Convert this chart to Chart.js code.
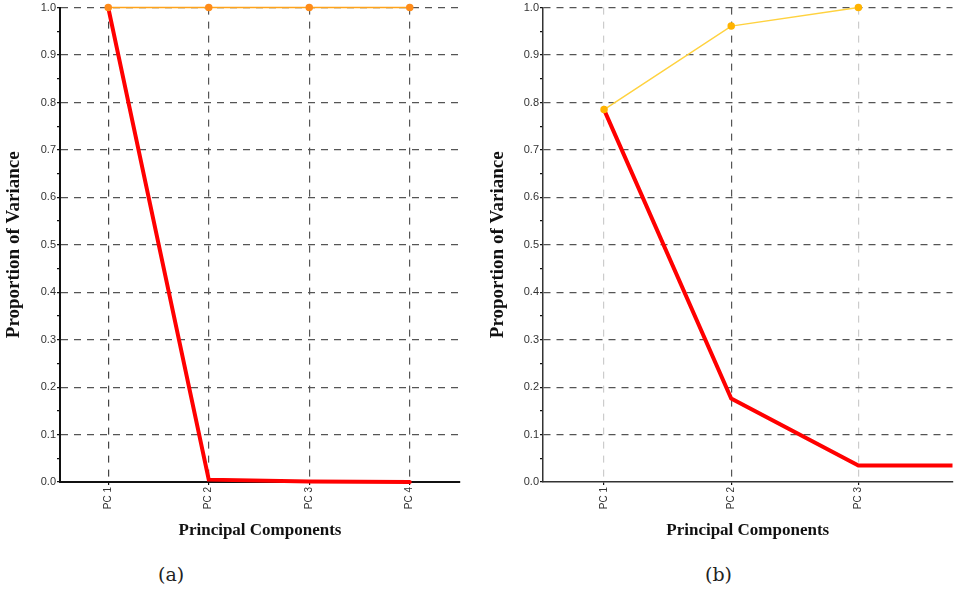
<!DOCTYPE html>
<html>
<head>
<meta charset="utf-8">
<script src="https://cdn.jsdelivr.net/npm/chart.js@4.4.0/dist/chart.umd.min.js"></script>
<style>
  body { margin: 0; background: #fff; width: 958px; height: 595px; position: relative; overflow: hidden; }
  .box { position: absolute; top: 0; height: 545px; }
  .cap { position: absolute; top: 563px; font: 19px "DejaVu Serif", "Liberation Serif", serif; color: #222; }
</style>
</head>
<body>
<div class="box" id="boxA" style="left:0;width:470px"><canvas id="chartA"></canvas></div>
<div class="box" id="boxB" style="left:480px;width:478px"><canvas id="chartB"></canvas></div>
<div class="cap" style="left:158px">(a)</div>
<div class="cap" style="left:705px">(b)</div>
<script>
// data, chart (a)
const componentsA = ['PC 1', 'PC 2', 'PC 3', 'PC 4'];
const cumulativeA = [1.0, 1.0, 1.0, 1.0];
const proportionA = [1.0, 0.005, 0.001, 0.0];

// data, chart (b)
const componentsB = ['PC 1', 'PC 2', 'PC 3'];
const cumulativeB = [0.785, 0.961, 1.0];
const proportionB = [0.785, 0.176, 0.035, 0.035];

const yTicks = [0, 0.1, 0.2, 0.3, 0.4, 0.5, 0.6, 0.7, 0.8, 0.9, 1.0];

const serif = '"Liberation Serif", "Times New Roman", serif';

function toPoints(values) {
    return values.map((v, i) => ({ x: i + 1, y: v }));
}

function isMajor(v) {
    return Math.round(v * 100) % 10 === 0;
}

function makeChart(id, labels, cumulative, proportion, opts) {
    const ctx = document.getElementById(id).getContext('2d');
    return new Chart(ctx, {
        type: 'line',
        data: {
            datasets: [{
                data: toPoints(cumulative),
                borderColor: opts.cumColor,
                backgroundColor: opts.dotColor,
                pointBackgroundColor: opts.dotColor,
                pointBorderColor: opts.dotColor,
                borderWidth: 1.5,
                pointRadius: 3,
                tension: 0
            }, {
                data: toPoints(proportion),
                borderColor: '#ff0000',
                backgroundColor: '#ff0000',
                borderWidth: 4,
                pointRadius: 0,
                borderCapStyle: 'round',
                tension: 0
            }]
        },
        options: {
            responsive: true,
            maintainAspectRatio: false,
            animation: false,
            clip: { left: 0, right: 0, top: 8, bottom: 4 },
            layout: { padding: { top: opts.top, right: opts.right, left: 0, bottom: 0 } },
            plugins: { legend: { display: false }, tooltip: { enabled: false } },
            scales: {
                x: {
                    type: 'linear',
                    min: opts.xMin,
                    max: opts.xMax,
                    afterFit: s => { s.height = 63; },
                    afterBuildTicks: s => { s.ticks = labels.map((l, i) => ({ value: i + 1 })); },
                    ticks: {
                        minRotation: 90,
                        maxRotation: 90,
                        autoSkip: false,
                        padding: 2,
                        font: { family: 'Liberation Sans', size: 10 },
                        color: '#333',
                        callback: (v) => labels[Math.round(v) - 1] || ''
                    },
                    grid: {
                        color: c => opts.vGrid[c.index] || '#555',
                        lineWidth: 1.2,
                        tickColor: '#111',
                        tickLength: 3
                    },
                    border: { color: opts.axisColor, width: opts.axisWidth, dash: [7, 7] },
                    title: {
                        display: true,
                        text: 'Principal Components',
                        font: { family: serif, size: 17, weight: 'bold' },
                        color: '#111',
                        padding: { top: 0, bottom: 4 }
                    }
                },
                y: {
                    min: 0,
                    max: 1,
                    afterFit: s => { s.width = opts.yWidth; },
                    afterBuildTicks: s => {
                        const t = [];
                        for (let i = 0; i <= 20; i++) t.push({ value: i * 0.05 });
                        s.ticks = t;
                    },
                    ticks: {
                        padding: 1,
                        font: { family: 'Liberation Sans', size: 11 },
                        color: '#333',
                        callback: v => isMajor(v) ? yTicks[Math.round(v * 10)].toFixed(1) : ''
                    },
                    grid: {
                        color: c => (c.tick && isMajor(c.tick.value) && c.tick.value > 0) ? '#555' : 'transparent',
                        lineWidth: 1.2,
                        tickColor: '#111',
                        tickLength: 3
                    },
                    border: { color: opts.axisColor, width: opts.axisWidth, dash: [7, 6] },
                    title: {
                        display: true,
                        text: 'Proportion of Variance',
                        font: { family: serif, size: 19, weight: 'bold' },
                        color: '#111',
                        padding: { top: opts.titlePad, bottom: 0 }
                    }
                }
            }
        }
    });
}

makeChart('chartA', componentsA, cumulativeA, proportionA, {
    cumColor: '#ffa31a', dotColor: '#ff8c1a',
    top: 7, right: 10, yWidth: 60,
    xMin: 0.52, xMax: 4.5,
    axisColor: '#111', axisWidth: 2,
    titlePad: 3,
    vGrid: ['#444', '#555', '#555', '#555']
});

makeChart('chartB', componentsB, cumulativeB, proportionB, {
    cumColor: '#ffd23f', dotColor: '#ffb300',
    top: 6, right: 5, yWidth: 63,
    xMin: 0.52, xMax: 3.74,
    axisColor: '#333', axisWidth: 1.5,
    titlePad: 7,
    vGrid: ['#ccc', '#555', '#ccc']
});
</script>
</body>
</html>
